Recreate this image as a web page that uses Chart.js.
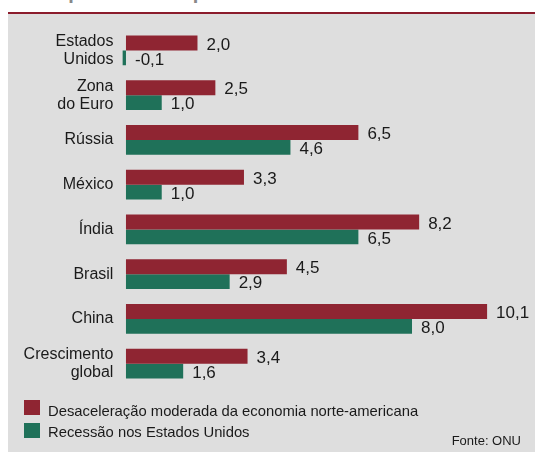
<!DOCTYPE html>
<html><head><meta charset="utf-8">
<script src="https://cdn.jsdelivr.net/npm/chart.js@4/dist/chart.umd.min.js"></script>
<style>
html,body{margin:0;padding:0;background:#fff;width:535px;height:452px;overflow:hidden;font-family:"Liberation Sans",Arial,sans-serif;}
#title{position:absolute;left:25px;top:-19px;font:bold 20px "Liberation Sans",Arial,sans-serif;color:#888;white-space:nowrap;line-height:23px;}
#panel{position:absolute;left:8px;top:12px;width:527px;height:438px;background:#dedede;border-top:2px solid #8b1c2c;}
#c{position:absolute;left:0;top:0;}
.sw{position:absolute;left:24px;width:16px;height:15px;}
.lt{position:absolute;left:48px;font-size:14.8px;line-height:15px;color:#1a1a1a;white-space:nowrap;}
#src{position:absolute;right:14px;top:434px;font-size:13px;line-height:13px;color:#1a1a1a;}
</style>
</head><body>
<div id="title">Perspectiva ONU para 2008</div>
<div id="panel"></div>
<canvas id="c" width="535" height="452"></canvas>
<div id="legend"></div>
<div id="src">Fonte: ONU</div>
<script>
const categories = [["Estados","Unidos"],["Zona","do Euro"],["Rússia"],["México"],["Índia"],["Brasil"],["China"],["Crescimento","global"]];
const seriesNames = ["Desaceleração moderada da economia norte-americana","Recessão nos Estados Unidos"];
const moderada = [2.0, 2.5, 6.5, 3.3, 8.2, 4.5, 10.1, 3.4];
const recessao = [-0.1, 1.0, 4.6, 1.0, 6.5, 2.9, 8.0, 1.6];
const colors = ["#8f2532","#1f7159"];

const fmt = v => v.toFixed(1).replace('.', ',');

const valueLabels = {
  id: 'valueLabels',
  afterDatasetsDraw(chart) {
    const ctx = chart.ctx;
    ctx.save();
    ctx.font = '17px "Liberation Sans", Arial, sans-serif';
    ctx.fillStyle = '#1a1a1a';
    ctx.textBaseline = 'middle';
    ctx.textAlign = 'left';
    chart.data.datasets.forEach((ds, di) => {
      const meta = chart.getDatasetMeta(di);
      meta.data.forEach((el, i) => {
        const x = Math.max(el.x, el.base) + 9;
        ctx.fillText(fmt(ds.data[i]), x, el.y + 2);
      });
    });
    ctx.restore();
  }
};

new Chart(document.getElementById('c'), {
  type: 'bar',
  data: {
    labels: categories,
    datasets: [
      {label: seriesNames[0], data: moderada, backgroundColor: colors[0], categoryPercentage: 0.67, barPercentage: 1.0},
      {label: seriesNames[1], data: recessao, backgroundColor: colors[1], categoryPercentage: 0.67, barPercentage: 1.0}
    ]
  },
  options: {
    indexAxis: 'y',
    responsive: false,
    devicePixelRatio: 1,
    animation: false,
    layout: {padding: {top: 28, bottom: 66, left: 0, right: 5}},
    plugins: {legend: {display: false}, tooltip: {enabled: false}},
    scales: {
      x: {display: false, min: -0.1, max: 11.3},
      y: {
        grid: {display: false, drawTicks: false},
        border: {display: false},
        ticks: {font: {size: 16, family: '"Liberation Sans", Arial, sans-serif', lineHeight: 1.125}, color: '#1a1a1a', padding: 9},
        afterFit(s) { s.width = 122.4; }
      }
    }
  },
  plugins: [valueLabels]
});

const leg = document.getElementById('legend');
const tops = [400, 422.7], textTops = [404, 425];
seriesNames.forEach((n, i) => {
  const sw = document.createElement('div');
  sw.className = 'sw'; sw.style.top = tops[i] + 'px'; sw.style.background = colors[i];
  const t = document.createElement('div');
  t.className = 'lt'; t.style.top = textTops[i] + 'px';
  t.textContent = n;
  leg.appendChild(sw); leg.appendChild(t);
});
</script>
</body></html>
